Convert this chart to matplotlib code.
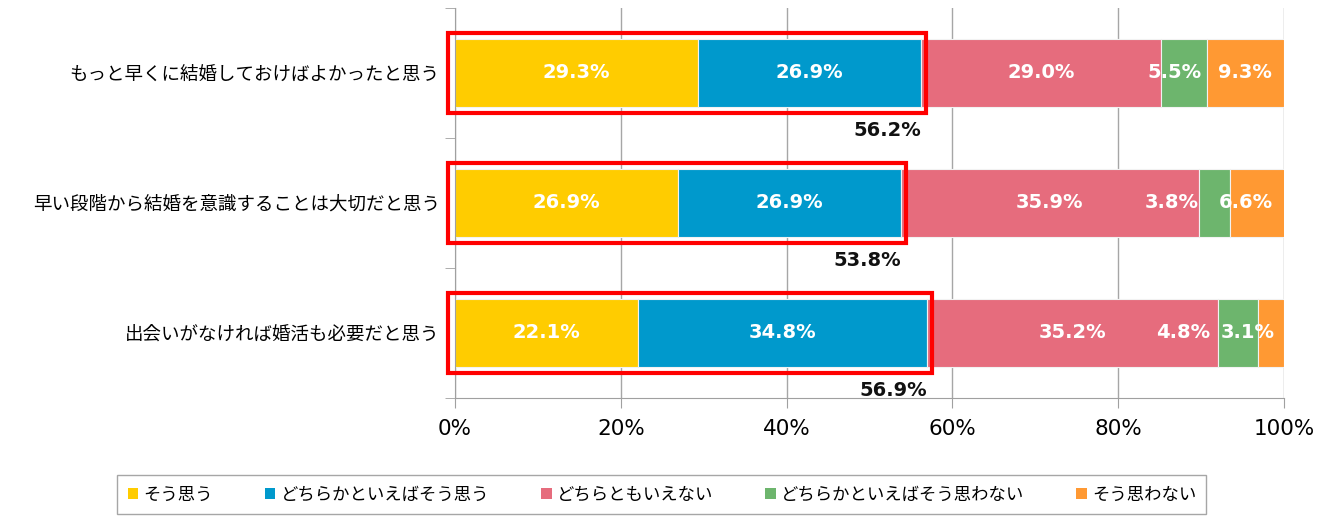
import matplotlib.pyplot as plt
from matplotlib.patches import Rectangle, Patch

plt.rcParams['font.family'] = ['Noto Sans CJK JP', 'DejaVu Sans']

categories = ['もっと早くに結婚しておけばよかったと思う',
              '早い段階から結婚を意識することは大切だと思う',
              '出会いがなければ婚活も必要だと思う']
series = ['そう思う', 'どちらかといえばそう思う', 'どちらともいえない',
          'どちらかといえばそう思わない', 'そう思わない']
values = [[29.3, 26.9, 29.0, 5.5, 9.3],
          [26.9, 26.9, 35.9, 3.8, 6.6],
          [22.1, 34.8, 35.2, 4.8, 3.1]]
totals = ['56.2%', '53.8%', '56.9%']
colors = ['#FFCC00', '#0099CC', '#E66C7D', '#6DB56D', '#FF9933']
# shift (in % units) of the labels on the narrow segments, as placed in the original
label_shift = [[0, 0, 0, -1.2, 0],
               [0, 0, 0, -5.2, -1.4],
               [0, 0, 0, -6.7, -2.8]]

fig = plt.figure(figsize=(13.29, 5.16), dpi=100)
ax = fig.add_axes([0.3424, 0.2287, 0.6237, 0.7558])

for i, row in enumerate(values):
    left = 0
    for j, v in enumerate(row):
        ax.barh(i, v, left=left, height=0.52, color=colors[j],
                edgecolor='#F2F2F2', linewidth=0.8, zorder=2)
        ax.text(left + v / 2 + label_shift[i][j], i, f'{v:.1f}%', color='white',
                fontsize=14, fontweight='bold', ha='center', va='center',
                family='DejaVu Sans', zorder=3)
        left += v
    s = row[0] + row[1]
    ax.add_patch(Rectangle((-0.9, i - 0.31), s + 1.5, 0.62, fill=False,
                           edgecolor='#FF0000', linewidth=3, zorder=4,
                           clip_on=False))
    ax.text(s, i + 0.44, totals[i], ha='right', va='center', fontsize=14,
            fontweight='bold', color='#111111', family='DejaVu Sans')

ax.set_xlim(0, 100)
ax.set_ylim(2.5, -0.5)
ax.set_xticks([0, 20, 40, 60, 80, 100])
ax.set_xticklabels([f'{t}%' for t in [0, 20, 40, 60, 80, 100]],
                   fontsize=15.5, family='DejaVu Sans')
ax.set_yticks([0, 1, 2])
ax.set_yticklabels(categories, fontsize=13.3)
ax.set_yticks([-0.5, 0.5, 1.5, 2.5], minor=True)
ax.tick_params(axis='y', which='major', length=0, pad=11)
ax.tick_params(axis='y', which='minor', length=7, color='#A0A0A0')
ax.tick_params(axis='x', length=7, color='#A0A0A0', pad=8)
ax.grid(axis='x', color='#A6A6A6', linewidth=1, zorder=0)
for side in ['top', 'right']:
    ax.spines[side].set_visible(False)
for side in ['left', 'bottom']:
    ax.spines[side].set_color('#A0A0A0')

handles = [Patch(facecolor=c) for c in colors]
leg = fig.legend(handles, series, loc='upper center', bbox_to_anchor=(0.498, 0.0795),
                 ncol=5, fontsize=12.5, frameon=True, fancybox=False,
                 edgecolor='#909090', handlelength=0.6, handleheight=0.6,
                 handletextpad=0.3, columnspacing=3.0, borderpad=0.6,
                 borderaxespad=0)
leg.get_frame().set_linewidth(1)

fig.savefig('out.png', dpi=100)
